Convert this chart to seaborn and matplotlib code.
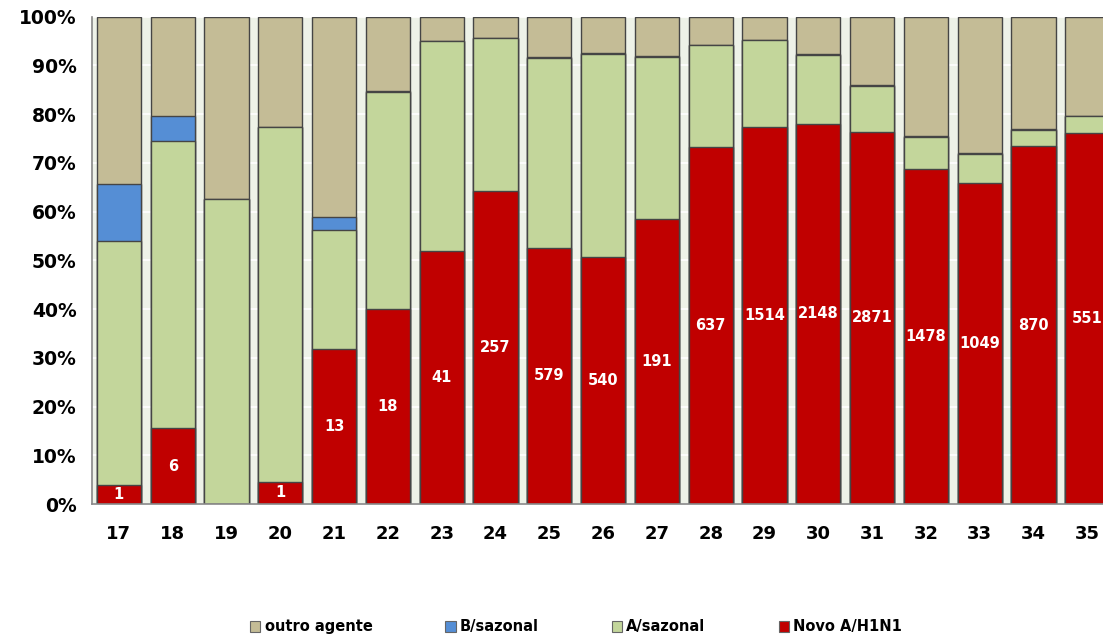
import matplotlib
matplotlib.use("Agg")
import matplotlib.pyplot as plt
from matplotlib.patches import Patch
import numpy as np
import seaborn as sns

sns.set_style("white")
plt.rcParams['font.family'] = ['DejaVu Sans']
plt.rcParams['text.color'] = 'black'
plt.rcParams['xtick.color'] = 'black'
plt.rcParams['ytick.color'] = 'black'

weeks = ["17", "18", "19", "20", "21", "22", "23", "24", "25", "26",
         "27", "28", "29", "30", "31", "32", "33", "34", "35"]
# percentages per week (share of samples)
novo_h1n1 = [3.9, 15.5, 0, 4.6, 31.8, 40.1, 52.0, 64.2, 52.6, 50.6,
             58.5, 73.3, 77.4, 78.0, 76.4, 68.7, 65.8, 73.4, 76.2]
a_sazonal = [50.1, 58.9, 62.6, 72.8, 24.5, 44.5, 43.0, 31.4, 38.9, 41.7,
             33.2, 20.8, 17.8, 14.1, 9.3, 6.7, 6.0, 3.4, 3.4]
b_sazonal = [11.6, 5.2, 0, 0, 2.5, 0.1, 0, 0.1, 0.2, 0.2,
             0.2, 0, 0, 0.2, 0.2, 0.2, 0.2, 0.2, 0]
# counts of novo A/H1N1 shown on the bars
novo_counts = ["1", "6", "", "1", "13", "18", "41", "257", "579", "540",
               "191", "637", "1514", "2148", "2871", "1478", "1049", "870", "551"]

series_names = ["outro agente", "B/sazonal", "A/sazonal", "Novo A/H1N1"]
colors = {"outro agente": "#C4BC96", "B/sazonal": "#558ED5",
          "A/sazonal": "#C3D69B", "Novo A/H1N1": "#C00000"}

novo = np.array(novo_h1n1)
lvl_a = novo + np.array(a_sazonal)
lvl_b = lvl_a + np.array(b_sazonal)
lvl_top = np.full(len(weeks), 100.0)

fig = plt.figure(figsize=(11.03, 6.34), dpi=100)
ax = fig.add_axes([0.0834, 0.205, 0.9268, 0.7687])
ax.set_facecolor("#EEF2E8")

edge = "#454545"
for name, vals in [("outro agente", lvl_top), ("B/sazonal", lvl_b),
                   ("A/sazonal", lvl_a), ("Novo A/H1N1", novo)]:
    sns.barplot(x=weeks, y=vals, color=colors[name], saturation=1, width=0.82,
                edgecolor=edge, linewidth=1.0, ax=ax)

ax.bar_label(ax.containers[-1], labels=novo_counts, label_type="center",
             color="white", fontweight="bold", fontsize=10.5)

ax.set_ylim(0, 100)
ax.set_xlim(-0.5, 18.5)
ax.set_yticks(range(0, 101, 10))
ax.set_yticklabels([f"{v}%" for v in range(0, 101, 10)],
                   fontsize=13.5, fontweight="bold")
ax.set_xticks(range(len(weeks)))
ax.set_xticklabels(weeks, fontsize=13, fontweight="bold")
ax.set_xticks(np.arange(-0.5, len(weeks), 1), minor=True)
ax.tick_params(axis="x", which="major", length=0, pad=15)
ax.tick_params(axis="x", which="minor", length=5, color="#888888", width=1)
ax.tick_params(axis="y", length=5, color="#888888", width=1, pad=6)
ax.set_xlabel("")
ax.set_ylabel("")

ax.yaxis.grid(True, color="white", linewidth=1.2)
ax.set_axisbelow(True)
for s in ["top", "right"]:
    ax.spines[s].set_visible(False)
for s in ["left", "bottom"]:
    ax.spines[s].set_color("#888888")
    ax.spines[s].set_linewidth(1.2)

handles = [Patch(facecolor=colors[n], edgecolor="#666666", linewidth=0.8)
           for n in series_names]
fig.legend(handles, series_names, loc="center", bbox_to_anchor=(576 / 1103, 1 - 627 / 634),
           ncol=4, frameon=False, handlelength=0.7, handleheight=0.7,
           handletextpad=0.3, columnspacing=5,
           prop={"weight": "bold", "size": 10.5})

fig.savefig("out.png", dpi=100)
